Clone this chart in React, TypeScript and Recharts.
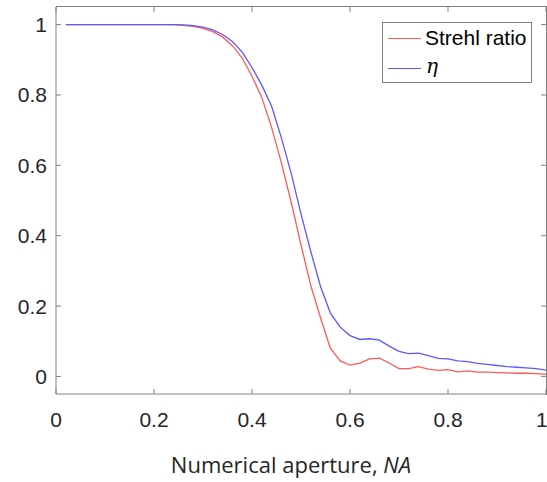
import React from "react";
import {
  LineChart,
  Line,
  XAxis,
  YAxis,
  Label,
  ReferenceLine,
} from "recharts";

// numerical aperture samples
const na = [
  0.02, 0.04, 0.06, 0.08, 0.1, 0.12, 0.14, 0.16, 0.18, 0.2,
  0.22, 0.24, 0.26, 0.28, 0.3, 0.32, 0.34, 0.36, 0.38, 0.4,
  0.42, 0.44, 0.46, 0.48, 0.5, 0.52, 0.54, 0.56, 0.58, 0.6,
  0.62, 0.64, 0.66, 0.68, 0.7, 0.72, 0.74, 0.76, 0.78, 0.8,
  0.82, 0.84, 0.86, 0.88, 0.9, 0.92, 0.94, 0.96, 0.98, 1.0,
];

const strehl = [
  1, 1, 1, 1, 1, 1, 1, 1, 1, 1,
  1, 1, 0.998, 0.995, 0.989, 0.98, 0.965, 0.94, 0.905, 0.853,
  0.793, 0.708, 0.607, 0.495, 0.374, 0.258, 0.166, 0.08, 0.044, 0.032,
  0.038, 0.05, 0.052, 0.038, 0.022, 0.022, 0.028, 0.021, 0.017, 0.019,
  0.013, 0.016, 0.012, 0.012, 0.011, 0.01, 0.009, 0.009, 0.008, 0.006,
];

const eta = [
  1, 1, 1, 1, 1, 1, 1, 1, 1, 1,
  1, 1, 0.999, 0.997, 0.993, 0.985, 0.972, 0.952, 0.922, 0.878,
  0.828, 0.768, 0.678, 0.577, 0.462, 0.355, 0.255, 0.18, 0.14, 0.116,
  0.105, 0.107, 0.103, 0.086, 0.071, 0.065, 0.066, 0.059, 0.051, 0.05,
  0.044, 0.042, 0.037, 0.034, 0.031, 0.028, 0.026, 0.024, 0.022, 0.018,
];

const xTicks = [0, 0.2, 0.4, 0.6, 0.8, 1];
const yTicks = [0, 0.2, 0.4, 0.6, 0.8, 1];
const xDomain = [0, 1];
const yDomain = [-0.05, 1.05];

const data = na.map((x, i) => ({ na: x, strehl: strehl[i], eta: eta[i] }));

const FONT = "'Liberation Sans', Arial, sans-serif";
const AXIS = "#808080";
const TEXT = "#262626";
const RED = "#ff5a5a";
const BLUE = "#5a5aff";

// inward tick length on the top/right box edges, in data units
const X_TICK_LEN = 0.0102;
const Y_TICK_LEN = 0.0142;

const fmt = (v: number) => String(v);

function LegendBox() {
  return (
    <div
      style={{
        position: "absolute",
        left: 382,
        top: 22,
        width: 150,
        height: 61,
        border: `1px solid ${AXIS}`,
        background: "#fff",
        boxSizing: "border-box",
        fontFamily: FONT,
        fontSize: 21,
        color: "#000",
      }}
    >
      <div style={{ position: "absolute", left: 5, top: 15, width: 33, height: 1.3, background: RED }} />
      <div style={{ position: "absolute", left: 42, top: 2, lineHeight: "26px" }}>Strehl ratio</div>
      <div style={{ position: "absolute", left: 5, top: 45, width: 33, height: 1.3, background: BLUE }} />
      <div
        style={{
          position: "absolute",
          left: 43,
          top: 30,
          lineHeight: "26px",
          fontFamily: "'DejaVu Serif', serif",
          fontStyle: "italic",
          fontSize: 20,
        }}
      >
        η
      </div>
    </div>
  );
}

export default function App() {
  const yTop = yDomain[1];
  const xRight = xDomain[1];
  return (
    <div style={{ position: "absolute", left: 0, top: 0 }}>
      <LineChart
        width={547}
        height={482}
        data={data}
        margin={{ top: 7, right: 1, left: 0, bottom: 0 }}
      >
        <XAxis
          dataKey="na"
          type="number"
          domain={xDomain}
          ticks={xTicks}
          tickFormatter={fmt}
          height={88}
          stroke={AXIS}
          tickSize={-5}
          tickMargin={23}
          tick={{ fill: TEXT, fontSize: 21, fontFamily: FONT }}
        >
          <Label
            content={() => (
              <text
                x={291}
                y={473}
                textAnchor="middle"
                fill={TEXT}
                style={{ fontFamily: "'Open Sans', sans-serif", fontSize: 22 }}
              >
                Numerical aperture, <tspan fontStyle="italic">NA</tspan>
              </text>
            )}
          />
        </XAxis>
        <YAxis
          type="number"
          domain={yDomain}
          ticks={yTicks}
          tickFormatter={fmt}
          width={56}
          stroke={AXIS}
          tickSize={-5}
          tickMargin={14}
          tick={{ fill: TEXT, fontSize: 21, fontFamily: FONT }}
        />
        {/* inward ticks on the top/right box edges */}
        {xTicks.map((t) => (
          <ReferenceLine
            key={`tx${t}`}
            segment={[{ x: t, y: yTop }, { x: t, y: yTop - Y_TICK_LEN }]}
            stroke={AXIS}
            ifOverflow="visible"
          />
        ))}
        {yTicks.map((t) => (
          <ReferenceLine
            key={`ty${t}`}
            segment={[{ x: xRight, y: t }, { x: xRight - X_TICK_LEN, y: t }]}
            stroke={AXIS}
            ifOverflow="visible"
          />
        ))}
        <Line
          type="linear"
          dataKey="strehl"
          name="Strehl ratio"
          stroke={RED}
          strokeWidth={1.3}
          dot={false}
          isAnimationActive={false}
        />
        <Line
          type="linear"
          dataKey="eta"
          name="η"
          stroke={BLUE}
          strokeWidth={1.3}
          dot={false}
          isAnimationActive={false}
        />
      </LineChart>
      {/* top and right edges of the axes box */}
      <div
        style={{
          position: "absolute",
          left: 56,
          top: 6,
          width: 490,
          height: 388,
          borderTop: `1px solid ${AXIS}`,
          borderRight: `1px solid ${AXIS}`,
          pointerEvents: "none",
        }}
      />
      <LegendBox />
    </div>
  );
}
